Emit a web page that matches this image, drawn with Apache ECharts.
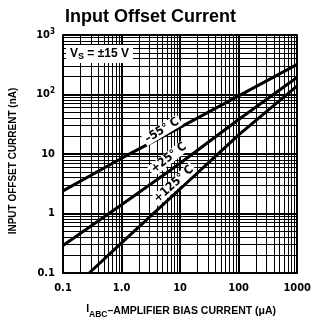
<!DOCTYPE html>
<html>
<head>
<meta charset="utf-8">
<script src="https://cdn.jsdelivr.net/npm/echarts@6/dist/echarts.min.js"></script>
<style>
html,body{margin:0;padding:0;background:#fff;}
#c{width:314px;height:324px;}
</style>
</head>
<body>
<div id="c"></div>
<script>
// ---- data ----
const xTickLabels = ['0.1', '1.0', '10', '100', '1000'];
const yTickLabels = ['0.1', '1', '10', '10{sup|2}', '10{sup|3}'];
const seriesNames = ['-55°C', '+25°C', '+125°C'];
const biasCurrent_m55 = [0.1, 1, 10, 100, 1000];
const offset_m55 = [2.4, 8.5, 28, 95, 320];
const biasCurrent_p25 = [0.1, 1, 10, 100, 1000];
const offset_p25 = [0.29, 1.4, 7, 38, 195];
const biasCurrent_p125 = [0.28, 1, 10, 100, 1000];
const offset_p125 = [0.1, 0.32, 2.6, 21, 140];
// label anchor points (data space)
const labelX = [4.9, 6.4, 7.8];
const labelY = [25, 8.6, 3.1];
const labelText = ['\u201355\u00b0 C', '+25\u00b0 C', '+125\u00b0 C'];
const labelRotate = [31, 38, 42];

const FONT = "'Liberation Sans Narrow','DejaVu Sans Condensed','Liberation Sans',sans-serif";
const FONT2 = "'Liberation Sans',Arial,sans-serif";

function pairs(xs, ys) { return xs.map((x, i) => [x, ys[i]]); }

const minorX = [], minorY = [];
for (let d = -1; d <= 2; d++) {
  for (let k = 2; k <= 9; k++) {
    minorX.push(k * Math.pow(10, d));
    minorY.push(k * Math.pow(10, d));
  }
}

const chart = echarts.init(document.getElementById('c'), null, {renderer: 'canvas'});

function idx(v) { return Math.round(Math.log10(v)) + 1; }

const dataSets = [
  pairs(biasCurrent_m55, offset_m55),
  pairs(biasCurrent_p25, offset_p25),
  pairs(biasCurrent_p125, offset_p125)
];

const lineSeries = dataSets.map((d, i) => ({
  name: seriesNames[i],
  type: 'line',
  data: d,
  symbol: 'none',
  smooth: false,
  z: 5,
  lineStyle: {color: '#000', width: 3},
  markPoint: {
    symbol: 'rect',
    symbolSize: 1,
    itemStyle: {color: 'rgba(0,0,0,0)'},
    z: 10,
    label: {
      show: true,
      position: 'inside',
      rotate: labelRotate[i],
      formatter: labelText[i],
      color: '#000',
      fontWeight: 'bold',
      fontSize: 12,
      fontFamily: FONT,
      backgroundColor: '#fff',
      padding: [0, 2]
    },
    data: [{coord: [labelX[i], labelY[i]]}]
  }
}));

const option = {
  animation: false,
  backgroundColor: '#fff',
  title: {
    text: 'Input Offset Current',
    left: 60,
    top: 3,
    textStyle: {fontSize: 18, fontWeight: 'bold', color: '#000', fontFamily: FONT2}
  },
  graphic: [{
    type: 'text',
    left: 66,
    top: 45,
    z: 20,
    style: {
      text: 'V{s|S} = \u00b115 V',
      rich: {s: {fontSize: 9, fontWeight: 'bold', padding: [5, 0, 0, 0], fontFamily: FONT2}},
      fill: '#000',
      font: 'bold 12px ' + FONT2,
      backgroundColor: '#fff',
      padding: [2, 4]
    }
  }, {
    type: 'text',
    x: 13,
    y: 161,
    rotation: Math.PI / 2,
    z: 20,
    style: {
      text: 'INPUT OFFSET CURRENT (nA)',
      fill: '#000',
      font: 'bold 10px ' + FONT2,
      align: 'center',
      verticalAlign: 'middle'
    }
  }],
  grid: {left: 63, right: 10, top: 35, bottom: 47, show: true, borderColor: '#000', borderWidth: 1.5},
  xAxis: {
    type: 'log',
    min: 0.1,
    max: 1000,
    logBase: 10,
    name: '{i|I}{sub|ABC}\u2013AMPLIFIER BIAS CURRENT (\u03bcA)',
    nameLocation: 'middle',
    nameGap: 31,
    nameTextStyle: {
      color: '#000', fontWeight: 'bold', fontSize: 10.5, fontFamily: FONT2, padding: [0, 0, 0, 2],
      rich: {i: {fontSize: 10.5, fontWeight: 'bold', fontFamily: FONT2, padding: [0, 0, 4, 0]},
             sub: {fontSize: 8.5, fontWeight: 'bold', fontFamily: FONT2, padding: [6, 0, 0, 0]}}
    },
    axisLine: {show: true, lineStyle: {color: '#000', width: 1.5}},
    axisTick: {show: false},
    axisLabel: {
      color: '#000', fontWeight: 'bold', fontSize: 11, fontFamily: FONT, margin: 10,
      formatter: v => xTickLabels[idx(v)]
    },
    splitLine: {show: true, lineStyle: {color: '#000', width: 2}}
  },
  yAxis: {
    type: 'log',
    min: 0.1,
    max: 1000,
    logBase: 10,
    axisLine: {show: true, lineStyle: {color: '#000', width: 1.5}},
    axisTick: {show: false},
    axisLabel: {
      color: '#000', fontWeight: 'bold', fontSize: 11, fontFamily: FONT, margin: 8,
      formatter: v => yTickLabels[idx(v)],
      rich: {sup: {fontSize: 8, fontWeight: 'bold', fontFamily: FONT, padding: [0, 0, 7, 0]}}
    },
    splitLine: {show: true, lineStyle: {color: '#000', width: 2}}
  },
  series: [{
    type: 'line',
    data: [],
    silent: true,
    z: 1,
    markLine: {
      silent: true,
      symbol: 'none',
      label: {show: false},
      lineStyle: {color: '#000', width: 1, type: 'solid'},
      data: minorX.map(v => ({xAxis: v})).concat(minorY.map(v => ({yAxis: v})))
    }
  }].concat(lineSeries)
};
chart.setOption(option);
</script>
</body>
</html>
